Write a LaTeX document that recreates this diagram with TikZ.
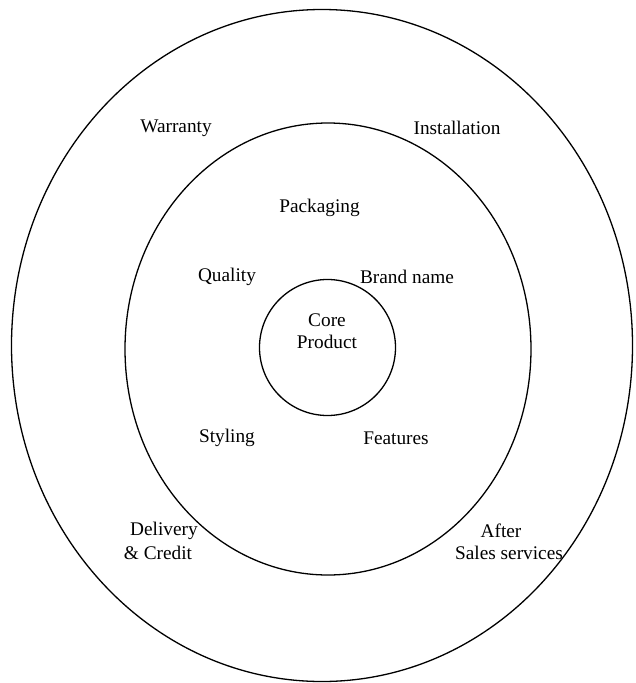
\documentclass[tikz,border=0pt]{standalone}
\usepackage{fontspec}
\setmainfont{Liberation Serif}
\usetikzlibrary{shapes.geometric}
\begin{document}
\begin{tikzpicture}[x={(1pt,0)},y={(0,-1pt)},
  ring/.style={draw=black,line width=1.3pt,ellipse,inner sep=0pt,outer sep=0pt},
  lbl/.style={font=\fontsize{19.3}{22}\selectfont,align=center,inner sep=0pt}]
\useasboundingbox (0,0) rectangle (635,683);
\node[ring,minimum width=621pt,minimum height=672pt] (outer) at (322,345.5) {};
\node[ring,minimum width=406pt,minimum height=452pt] (middle) at (328,349) {};
\node[ring,minimum width=136pt,minimum height=136pt] (core) at (327.5,347.5) {};
\node[lbl] (coret) at (327,331) {Core\\Product};
\node[lbl] (warranty) at (176,128) {Warranty};
\node[lbl] (install) at (457,128) {Installation};
\node[lbl] (pack) at (319.5,208) {Packaging};
\node[lbl] (quality) at (227,277) {Quality};
\node[lbl] (brand) at (407,277) {Brand name};
\node[lbl] (styling) at (227,438) {Styling};
\node[lbl] (features) at (396,438) {Features};
\node[lbl] (deliv) at (164,531) {Delivery};
\node[lbl] (credit) at (158,553) {\& Credit};
\node[lbl] (after) at (501,531) {After};
\node[lbl] (sales) at (509,553) {Sales services};
\end{tikzpicture}
\end{document}
